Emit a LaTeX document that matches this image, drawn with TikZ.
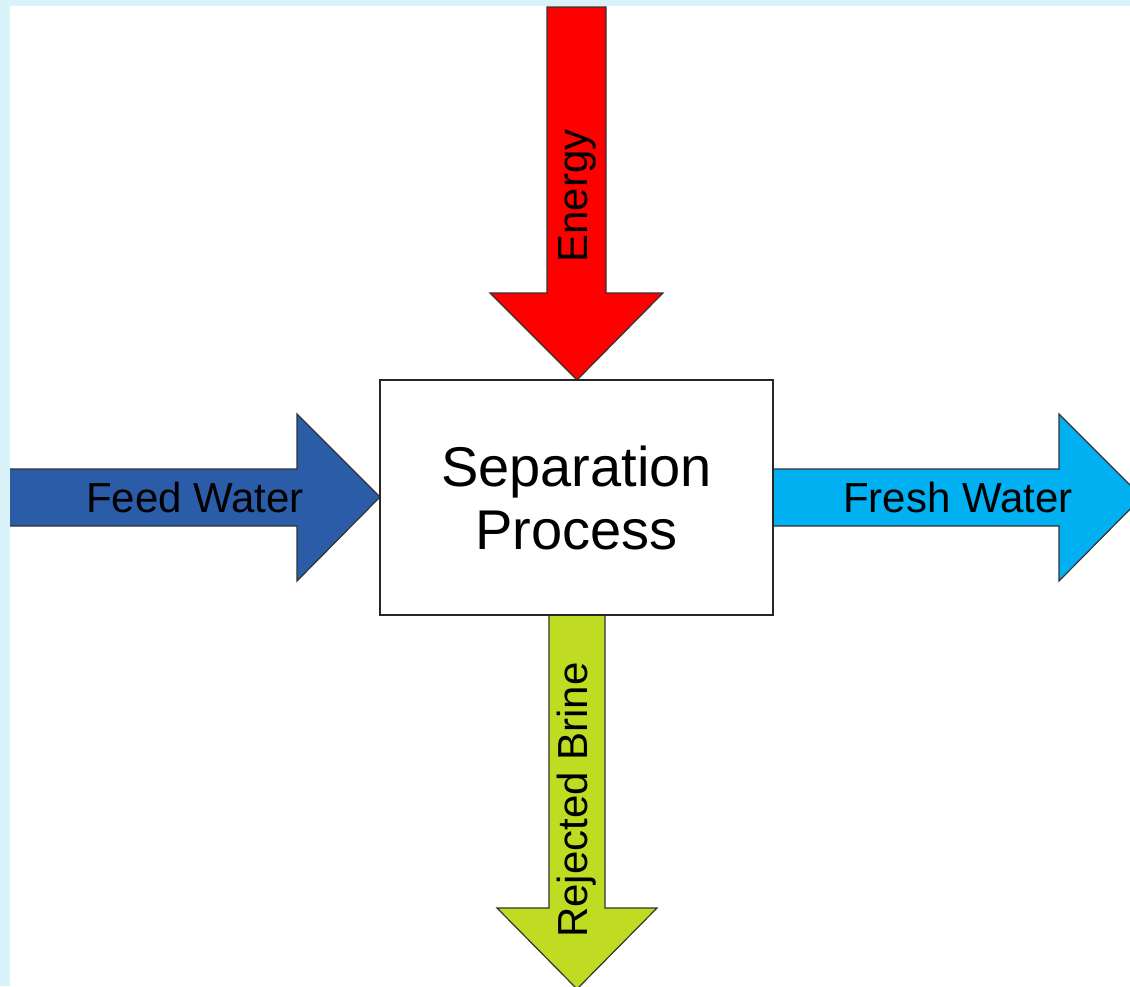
\documentclass[tikz,border=0pt]{standalone}
\usepackage{fontspec}
\setmainfont{Liberation Sans}
\begin{document}
\begin{tikzpicture}[x=1pt,y=-1pt,
  blockarrow/.style={draw=black!80,line width=1.2pt,line join=miter},
  lbl/.style={font=\fontsize{42}{46}\selectfont,text=black,inner sep=0pt},
  procbox/.style={draw=black!85,line width=1.4pt,fill=white,minimum width=393pt,minimum height=235pt,inner sep=0pt,align=center,font=\fontsize{56}{63}\selectfont}]
\definecolor{bgcyan}{HTML}{DAF3F8}
\definecolor{feedblue}{HTML}{2A5CA8}
\definecolor{freshcyan}{HTML}{00B0F0}
\definecolor{brinelime}{HTML}{C0DC22}
\useasboundingbox (0,0) rectangle (1130,986);
\fill[bgcyan] (0,0) rectangle (1130,986);
\fill[white] (10,6) rectangle (1130,986);
\begin{scope}
\clip (10,6) rectangle (1130,986);
% Energy arrow
\draw[blockarrow,fill=red] (547,7) -- (606,7) -- (606,293) -- (663,293) -- (577,380) -- (490,293) -- (547,293) -- cycle;
% Feed water arrow
\draw[blockarrow,fill=feedblue] (8,469) -- (297,469) -- (297,414) -- (380,497) -- (297,581) -- (297,526) -- (8,526);
% Fresh water arrow
\draw[blockarrow,fill=freshcyan] (773,469) -- (1059,469) -- (1059,414) -- (1142,497) -- (1059,581) -- (1059,526) -- (773,526);
% Rejected brine arrow
\draw[blockarrow,fill=brinelime] (549,615) -- (605,615) -- (605,908) -- (657,908) -- (577,989) -- (497,908) -- (549,908) -- cycle;
\end{scope}
\node[procbox] (proc) at (576.5,497.5) {Separation\\Process};
\node[lbl] (feed) at (195,497) {Feed Water};
\node[lbl] (fresh) at (958,497) {Fresh Water};
\node[lbl,rotate=90] (energy) at (577,196) {Energy};
\node[lbl,rotate=90] (brine) at (577,800) {Rejected Brine};
\end{tikzpicture}
\end{document}
